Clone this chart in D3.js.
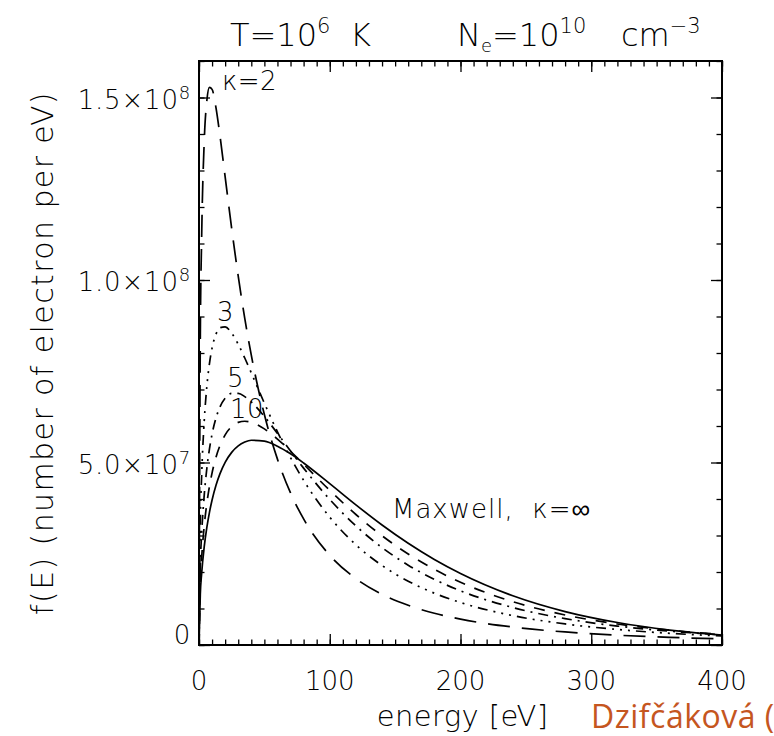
<!DOCTYPE html>
<html>
<head>
<meta charset="utf-8">
<script src="https://cdn.jsdelivr.net/npm/d3@7"></script>
<style>
  body { margin: 0; background: #fff; }
  svg { display: block; font-family: "DejaVu Sans", sans-serif; font-weight: 200; }
</style>
</head>
<body>
<svg id="chart" width="774" height="736"></svg>
<script>
// energy grid [eV]
const energy = [0, 1, 2, 4, 6, 8, 10, 13, 16, 20, 25, 30, 35, 40, 50, 60, 70, 80,
                100, 120, 140, 160, 180, 200, 240, 280, 320, 360, 400];
// f(E), in units of 1e7 electrons per eV
const kappa2  = [0, 8.405, 11.113, 13.797, 14.916, 15.278, 15.223, 14.718, 13.965, 12.828, 11.409, 10.104, 8.948, 7.941, 6.313, 5.092, 4.166, 3.454,
                 2.458, 1.819, 1.388, 1.088, 0.870, 0.709, 0.492, 0.357, 0.269, 0.209, 0.166];
const kappa3  = [0, 3.361, 4.610, 6.136, 7.081, 7.710, 8.135, 8.518, 8.693, 8.718, 8.543, 8.238, 7.863, 7.456, 6.625, 5.841, 5.135, 4.513,
                 3.502, 2.746, 2.178, 1.748, 1.419, 1.164, 0.806, 0.577, 0.425, 0.320, 0.247];
const kappa5  = [0, 2.179, 3.021, 4.108, 4.838, 5.373, 5.780, 6.222, 6.520, 6.762, 6.892, 6.892, 6.805, 6.659, 6.261, 5.797, 5.316, 4.846,
                 3.988, 3.263, 2.669, 2.187, 1.799, 1.485, 1.027, 0.723, 0.519, 0.379, 0.281];
const kappa10 = [0, 1.706, 2.377, 3.262, 3.878, 4.346, 4.717, 5.145, 5.461, 5.758, 5.985, 6.099, 6.130, 6.102, 5.922, 5.641, 5.308, 4.952,
                 4.237, 3.575, 2.992, 2.493, 2.072, 1.720, 1.187, 0.823, 0.575, 0.404, 0.287];
const maxwell = [0, 1.394, 1.949, 2.693, 3.223, 3.636, 3.972, 4.374, 4.687, 5.002, 5.277, 5.455, 5.560, 5.609, 5.584, 5.446, 5.238, 4.986,
                 4.420, 3.839, 3.288, 2.787, 2.343, 1.959, 1.349, 0.916, 0.616, 0.410, 0.272];

const seriesNames = ["kappa2", "kappa3", "kappa5", "kappa10", "maxwell"];

// tick labels
const xTicks = [0, 100, 200, 300, 400];
const yTicks = [0, 5, 10, 15];                 // units of 1e7
const yTickMantissa = ["0", "5.0", "1.0", "1.5"];
const yTickExponent = ["", "7", "8", "8"];

// curve annotations (data coordinates)
const labelText = ["κ=2", "3", "5", "10", "Maxwell,  κ=∞"];
const labelE = [17.6, 13.8, 21.4, 23.7, 147.6];
const labelF = [15.2, 8.88, 7.07, 6.22, 3.48];

(function () {
  const svg = d3.select("#chart");
  const pLeft = 199, pRight = 722, pTop = 61, pBottom = 645;

  const x = d3.scaleLinear().domain([0, 400]).range([pLeft, pRight]);
  const y = d3.scaleLinear().domain([0, 16]).range([pBottom, pTop]);

  const dashes = {
    kappa2: "22,12",
    kappa3: "10,6,2,6,2,6,2,6",
    kappa5: "10,6,2,6",
    kappa10: "11,10",
    maxwell: null
  };
  const seriesData = { kappa2, kappa3, kappa5, kappa10, maxwell };

  svg.append("defs").append("clipPath").attr("id", "plotclip")
    .append("rect").attr("x", pLeft).attr("y", pTop)
    .attr("width", pRight - pLeft).attr("height", pBottom - pTop);

  const line = d3.line()
    .x((d, i) => x(energy[i]))
    .y(d => y(d))
    .curve(d3.curveMonotoneX);

  svg.append("g").attr("clip-path", "url(#plotclip)")
    .selectAll("path")
    .data(seriesNames)
    .join("path")
    .attr("d", k => line(seriesData[k]))
    .attr("fill", "none")
    .attr("stroke", "#000")
    .attr("stroke-width", 1.7)
    .attr("stroke-dasharray", k => dashes[k]);

  // ticks on all four sides, pointing inwards
  function tickAxis(axis, transform) {
    const g = svg.append("g").attr("transform", transform).call(axis);
    g.select(".domain").remove();
    g.selectAll("line").attr("stroke", "#000").attr("stroke-width", 1.3);
    g.selectAll("text").remove();
  }
  const xMajor = d3.range(0, 401, 100), xMinor = d3.range(0, 401, 10);
  const yMajor = d3.range(0, 16, 5), yMinor = d3.range(0, 16.01, 1);

  tickAxis(d3.axisBottom(x).tickValues(xMinor).tickSize(-5.5), `translate(0,${pBottom})`);
  tickAxis(d3.axisBottom(x).tickValues(xMajor).tickSize(-11), `translate(0,${pBottom})`);
  tickAxis(d3.axisTop(x).tickValues(xMinor).tickSize(-5.5), `translate(0,${pTop})`);
  tickAxis(d3.axisTop(x).tickValues(xMajor).tickSize(-11), `translate(0,${pTop})`);
  tickAxis(d3.axisLeft(y).tickValues(yMinor).tickSize(-5.5), `translate(${pLeft},0)`);
  tickAxis(d3.axisLeft(y).tickValues(yMajor).tickSize(-11), `translate(${pLeft},0)`);
  tickAxis(d3.axisRight(y).tickValues(yMinor).tickSize(-5.5), `translate(${pRight},0)`);
  tickAxis(d3.axisRight(y).tickValues(yMajor).tickSize(-11), `translate(${pRight},0)`);

  svg.append("rect")
    .attr("x", pLeft).attr("y", pTop)
    .attr("width", pRight - pLeft).attr("height", pBottom - pTop)
    .attr("fill", "none").attr("stroke", "#000").attr("stroke-width", 2);

  // x tick labels
  svg.append("g").selectAll("text")
    .data(xTicks)
    .join("text")
    .attr("x", d => x(d))
    .attr("y", 690)
    .attr("text-anchor", "middle")
    .attr("font-size", 26)
    .text(d => d);

  // y tick labels
  yTicks.forEach((v, i) => {
    const t = svg.append("text")
      .attr("x", 191)
      .attr("y", Math.min(y(v) + 11, pBottom - 1))
      .attr("text-anchor", "end")
      .attr("font-size", 26)
      .attr("letter-spacing", 0.8);
    if (yTickExponent[i] === "") {
      t.text(yTickMantissa[i]);
    } else {
      t.append("tspan").text(yTickMantissa[i] + "×10");
      t.append("tspan").attr("dy", -10).attr("font-size", 18).text(yTickExponent[i]);
    }
  });

  // title
  const title = svg.append("text").attr("y", 46).attr("font-size", 32);
  title.append("tspan").attr("x", 230).text("T=10");
  title.append("tspan").attr("dy", -13).attr("font-size", 21).text("6");
  title.append("tspan").attr("x", 350).attr("dy", 13).text("K");
  title.append("tspan").attr("x", 457).text("N");
  title.append("tspan").attr("dy", 6).attr("font-size", 18).text("e");
  title.append("tspan").attr("dy", -6).text("=10");
  title.append("tspan").attr("dy", -13).attr("font-size", 21).text("10");
  title.append("tspan").attr("x", 621).attr("dy", 13).text("cm");
  title.append("tspan").attr("dy", -13).attr("font-size", 21).text("−3");

  // axis titles
  svg.append("text")
    .attr("transform", `translate(53,${(pTop + pBottom) / 2}) rotate(-90)`)
    .attr("text-anchor", "middle")
    .attr("font-size", 30)
    .attr("letter-spacing", 1.4)
    .text("f(E) (number of electron per eV)");

  svg.append("text")
    .attr("x", (pLeft + pRight) / 2 + 2)
    .attr("y", 726)
    .attr("text-anchor", "middle")
    .attr("font-size", 29)
    .attr("letter-spacing", 0.4)
    .text("energy [eV]");

  // curve labels
  svg.append("g").selectAll("text")
    .data(labelText)
    .join("text")
    .attr("x", (d, i) => x(labelE[i]))
    .attr("y", (d, i) => y(labelF[i]))
    .attr("font-size", 26)
    .attr("letter-spacing", (d, i) => i === 4 ? 1 : 0.4)
    .style("white-space", "pre")
    .text(d => d);

  // source credit
  svg.append("text")
    .attr("x", 591)
    .attr("y", 728)
    .attr("font-family", "'Open Sans', sans-serif")
    .attr("font-weight", 400)
    .attr("font-size", 32)
    .attr("letter-spacing", 0.5)
    .attr("fill", "#c5561f")
    .text("Dzifčáková (");
})();
</script>
</body>
</html>
